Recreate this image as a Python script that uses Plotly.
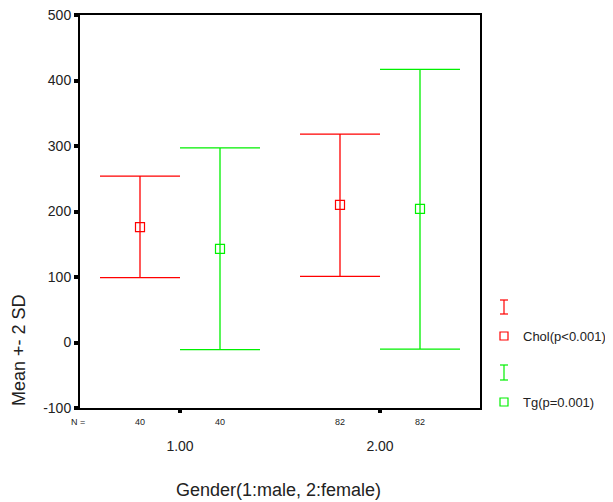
import plotly.graph_objects as go

groups = [1, 2]
group_labels = ["1.00", "2.00"]
n_chol = [40, 82]
n_tg = [40, 82]

chol_mean = [176, 210]
chol_upper = [254, 318]
chol_lower = [99, 101]

tg_mean = [143, 204]
tg_upper = [297, 417]
tg_lower = [-11, -10]

y_ticks = [-100, 0, 100, 200, 300, 400, 500]
y_tick_labels = ["-100", "0", "100", "200", "300", "400", "500"]

RED = "#ff0000"
GREEN = "#00f000"
OFF = 0.2

# plot area in screen pixels (page body has an 8px margin)
BODY = 8
L, R, T, B = 80, 480, 15, 408
W, H = 613 - BODY, 502 - BODY


def px(p):
    return (p - L) / (R - L)


def py(q):
    return (B - q) / (B - T)


fig = go.Figure()


def add_series(means, upper, lower, color, offset, name):
    xs = [g + offset for g in groups]
    fig.add_trace(go.Scatter(
        x=xs, y=means, mode="markers", name=name,
        marker=dict(symbol="square-open", size=9, color=color, line=dict(width=1.2)),
        error_y=dict(type="data", symmetric=False,
                     array=[u - m for u, m in zip(upper, means)],
                     arrayminus=[m - l for m, l in zip(means, lower)],
                     color=color, thickness=1.3, width=40),
        showlegend=False,
    ))


add_series(chol_mean, chol_upper, chol_lower, RED, -OFF, "Chol(p<0.001)")
add_series(tg_mean, tg_upper, tg_lower, GREEN, OFF, "Tg(p=0.001)")

annotations = []


def ann(x, y, text, size, xref="paper", xanchor="center", textangle=0):
    annotations.append(dict(x=x, y=y, xref=xref, yref="paper", text=text, showarrow=False,
                            xanchor=xanchor, yanchor="middle", textangle=textangle,
                            font=dict(size=size, color="#222")))


# N labels
ann(px(78), py(422), "N =", 9)
for g, nc, nt in zip(groups, n_chol, n_tg):
    ann(g - OFF, py(422), str(nc), 9, xref="x")
    ann(g + OFF, py(422), str(nt), 9, xref="x")

# axis titles
ann(px(19), py(350), "Mean +- 2 SD", 18, textangle=-90)
ann(px(278), py(490), "Gender(1:male, 2:female)", 18)

# legend texts
ann(px(521), py(336), "Chol(p<0.001)", 13, xanchor="left")
ann(px(521), py(402), "Tg(p=0.001)", 13, xanchor="left")

shapes = []


def ibar(cx, y0, y1, color):
    shapes.append(dict(type="line", xref="paper", yref="paper", x0=px(cx), x1=px(cx),
                       y0=py(y0), y1=py(y1), line=dict(color=color, width=1.2)))
    for yy in (y0, y1):
        shapes.append(dict(type="line", xref="paper", yref="paper", x0=px(cx - 4), x1=px(cx + 4),
                           y0=py(yy), y1=py(yy), line=dict(color=color, width=1.2)))


def sq(cx, cy, color):
    shapes.append(dict(type="rect", xref="paper", yref="paper", x0=px(cx - 4), x1=px(cx + 4),
                       y0=py(cy - 4), y1=py(cy + 4), line=dict(color=color, width=1.2)))


ibar(504, 300, 314, RED)
sq(504, 336, RED)
ibar(504, 365, 380, GREEN)
sq(504, 402, GREEN)

fig.update_layout(
    width=W, height=H,
    margin=dict(l=L - BODY, r=(W + BODY) - R, t=T - BODY, b=(H + BODY) - B, autoexpand=False),
    paper_bgcolor="white", plot_bgcolor="white",
    font=dict(family="Liberation Sans, Arial, sans-serif", color="#222"),
    annotations=annotations, shapes=shapes,
    showlegend=False,
)
fig.update_xaxes(range=[0.5, 2.5], tickvals=groups, ticktext=group_labels,
                 showgrid=False, zeroline=False, showline=True, linecolor="black", linewidth=2,
                 mirror=True, ticks="outside", ticklen=3, tickwidth=4, tickcolor="black",
                 ticklabelstandoff=21, ticklabeloverflow="allow",
                 tickfont=dict(size=14, color="#222"))
fig.update_yaxes(range=[-100, 500], tickvals=y_ticks, ticktext=y_tick_labels,
                 showgrid=False, zeroline=False, showline=True, linecolor="black", linewidth=2,
                 mirror=True, ticks="outside", ticklen=4, tickwidth=4, tickcolor="black",
                 ticklabeloverflow="allow",
                 tickfont=dict(size=14, color="#222"))

fig.write_html("out.html")
